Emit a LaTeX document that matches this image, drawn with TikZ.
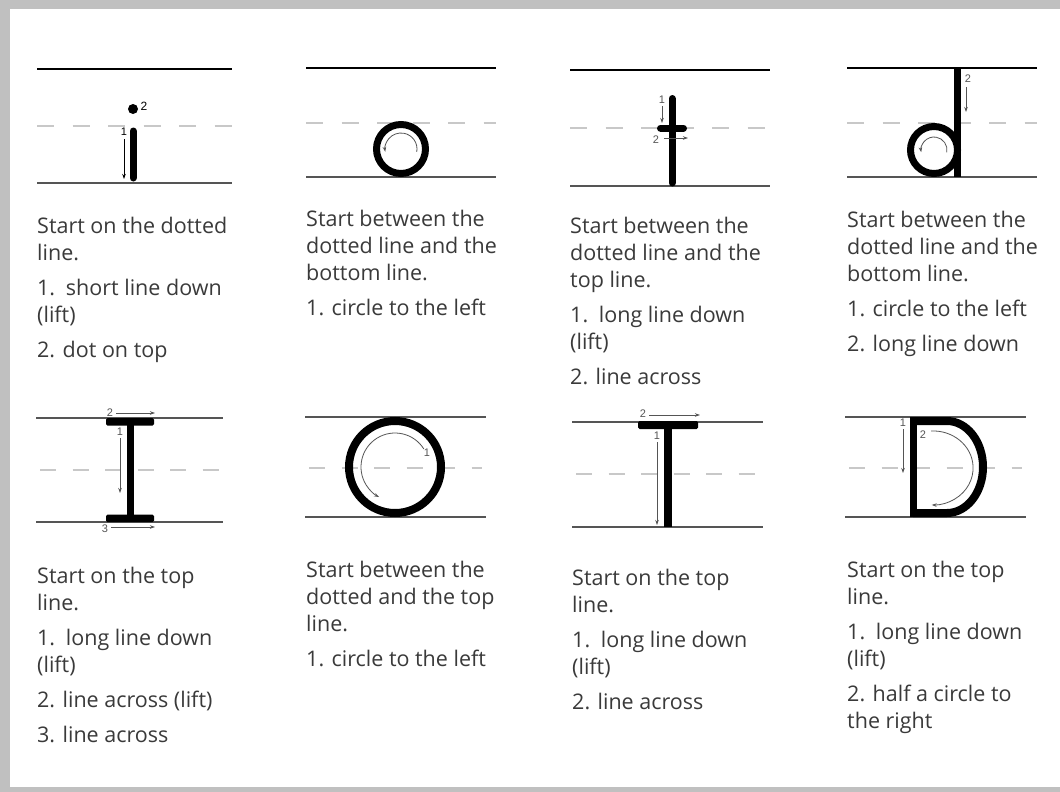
\documentclass[tikz,border=0pt]{standalone}
\usepackage{fontspec}
\setmainfont{Open Sans}
\newfontfamily\numfont{Liberation Sans}
\usetikzlibrary{arrows.meta}
\definecolor{framec}{HTML}{C0C0C0}
\definecolor{txtc}{HTML}{3A3A3A}
\definecolor{dashc}{HTML}{C8C8C8}
\definecolor{guidec}{HTML}{555555}
\definecolor{stepc}{HTML}{555555}
\begin{document}
\begin{tikzpicture}[x=1pt,y=-1pt,
  topguide/.style={line width=2.5pt, black},
  guide/.style={line width=2pt, guidec},
  midguide/.style={line width=2pt, dashc, dash pattern=on 17pt off 18.5pt},
  midguideb/.style={line width=2pt, dashc, dash pattern=on 16pt off 16.5pt},
  stroke/.style={line width=7pt, black, line cap=round},
  steparrow/.style={line width=0.8pt, stepc, -{Stealth[length=5pt,width=3.5pt]}},
  stepnum/.style={font=\numfont\fontsize{11}{11}\selectfont, text=stepc, inner sep=0},
  txt/.style={anchor=base west, inner sep=0, font=\fontsize{21.5}{26}\selectfont, text=txtc}]
\useasboundingbox (0,0) rectangle (1060,792);
\fill[white] (0,0) rectangle (1060,792);
% frame
\fill[framec] (0,0) rectangle (1060,9);
\fill[framec] (0,0) rectangle (10,792);
\fill[framec] (0,787) rectangle (1060,792);

% ---------- Panel 1 : i ----------
\draw[topguide] (37,69) -- (232,69);
\draw[midguide] (37,126) -- (232,126);
\draw[guide] (37,183) -- (232,183);
\draw[stroke] (133,131) -- (133,178);
\fill (133,109) circle (5);
\node[inner sep=0, font=\numfont\fontsize{12}{12}\selectfont] (n1b) at (144,106) {2};
\node[stepnum, text=black] (n1a) at (124,132) {1};
\draw[steparrow, black] (124,139) -- (124,179);
\foreach \y/\t [count=\i] in {233/Start on the dotted, 260/line., 295/1.\enspace short line down, 322/(lift), 357/2. dot on top}
  \node[txt] (pa\i) at (37,\y) {\t};

% ---------- Panel 2 : o ----------
\draw[topguide] (306,68) -- (496,68);
\draw[midguide] (306,123) -- (496,123);
\draw[guide] (306,177) -- (496,177);
\draw[line width=7pt] (401,149) circle (24.5);
\draw[steparrow] (401,149) ++(10:16) arc[start angle=10, end angle=-190, radius=16];
\foreach \y/\t [count=\i] in {226/Start between the, 253/dotted line and the, 280/bottom line., 315/1. circle to the left}
  \node[txt] (pb\i) at (306,\y) {\t};

% ---------- Panel 3 : t ----------
\draw[topguide] (570,70) -- (770,70);
\draw[midguide] (570,128) -- (770,128);
\draw[guide] (570,186) -- (770,186);
\draw[stroke] (672,98.5) -- (672,183);
\draw[stroke] (660.5,128) -- (683.5,128);
\node[stepnum] (n3a) at (662,100) {1};
\draw[steparrow] (662,106) -- (662,123);
\node[stepnum] (n3b) at (656,140) {2};
\draw[steparrow] (664,138) -- (688,138);
\foreach \y/\t [count=\i] in {233/Start between the, 260/dotted line and the, 287/top line., 322/1.\enspace long line down, 349/(lift), 384/2. line across}
  \node[txt] (pc\i) at (570,\y) {\t};

% ---------- Panel 4 : d ----------
\draw[topguide] (847,68) -- (1037,68);
\draw[midguide] (847,123) -- (1037,123);
\draw[guide] (847,177) -- (1037,177);
\draw[line width=7pt] (957,68) -- (957,177);
\draw[line width=7pt] (934,150) circle (23.5);
\draw[steparrow] (934,150) ++(10:13) arc[start angle=10, end angle=-190, radius=13];
\node[stepnum] (n4b) at (968,79) {2};
\draw[steparrow] (966,87) -- (966,112);
\foreach \y/\t [count=\i] in {227/Start between the, 254/dotted line and the, 281/bottom line., 316/1. circle to the left, 351/2. long line down}
  \node[txt] (pd\i) at (847,\y) {\t};

% ---------- Panel 5 : I ----------
\draw[guide] (36,418) -- (223,418);
\draw[midguideb] (40,470) -- (219,470);
\draw[guide] (36,522) -- (223,522);
\draw[line width=7pt] (130,420) -- (130,520);
\fill[rounded corners=1.5pt] (106,418) rectangle (154,425.5);
\fill[rounded corners=1.5pt] (106,514.5) rectangle (154,522);
\node[stepnum] (n5a) at (120,432) {1};
\draw[steparrow] (120,438) -- (120,493);
\node[stepnum] (n5b) at (110,413) {2};
\draw[steparrow] (116,413) -- (155,413);
\node[stepnum] (n5c) at (105,529) {3};
\draw[steparrow] (111,527) -- (155,527);
\foreach \y/\t [count=\i] in {583/Start on the top, 610/line., 645/1.\enspace long line down, 672/(lift), 707/2. line across (lift), 742/3. line across}
  \node[txt] (pe\i) at (37,\y) {\t};

% ---------- Panel 6 : O ----------
\draw[guide] (305,417) -- (486,417);
\draw[midguideb] (309,468) -- (482,468);
\draw[guide] (305,517) -- (486,517);
\draw[line width=8pt] (395,467) circle (46);
\draw[steparrow] (395,467) ++(-32:34) arc[start angle=-32, end angle=-242, radius=34];
\node[stepnum] (n6a) at (427,453) {1};
\foreach \y/\t [count=\i] in {577/Start between the, 604/dotted and the top, 631/line., 666/1. circle to the left}
  \node[txt] (pf\i) at (306,\y) {\t};

% ---------- Panel 7 : T ----------
\draw[guide] (572,422) -- (763,422);
\draw[midguideb] (576,474) -- (759,474);
\draw[guide] (572,527) -- (763,527);
\draw[line width=8pt] (668,425) -- (668,527);
\fill[rounded corners=1.5pt] (638,421) rectangle (698,429);
\node[stepnum] (n7a) at (657,436) {1};
\draw[steparrow] (657,442) -- (657,525);
\node[stepnum] (n7b) at (643,414) {2};
\draw[steparrow] (649,415) -- (700,415);
\foreach \y/\t [count=\i] in {585/Start on the top, 612/line., 647/1.\enspace long line down, 674/(lift), 709/2. line across}
  \node[txt] (pg\i) at (572,\y) {\t};

% ---------- Panel 8 : D ----------
\draw[guide] (845,417) -- (1026,417);
\draw[midguideb] (849,468) -- (1022,468);
\draw[guide] (845,517) -- (1026,517);
\draw[line width=7pt] (913,417) -- (913,517);
\draw[line width=8pt] (913,421) -- (947,421) arc[start angle=-90, end angle=90, x radius=36, y radius=46] -- (913,513);
\node[stepnum] (n8b) at (923,435) {2};
\draw[steparrow] (931,431) arc[start angle=-93, end angle=92, x radius=40, y radius=37];
\node[stepnum] (n8a) at (903,423) {1};
\draw[steparrow] (903,429) -- (903,473);
\foreach \y/\t [count=\i] in {577/Start on the top, 604/line., 639/1.\enspace long line down, 666/(lift), 701/2. half a circle to, 728/the right}
  \node[txt] (ph\i) at (847,\y) {\t};
\end{tikzpicture}
\end{document}
